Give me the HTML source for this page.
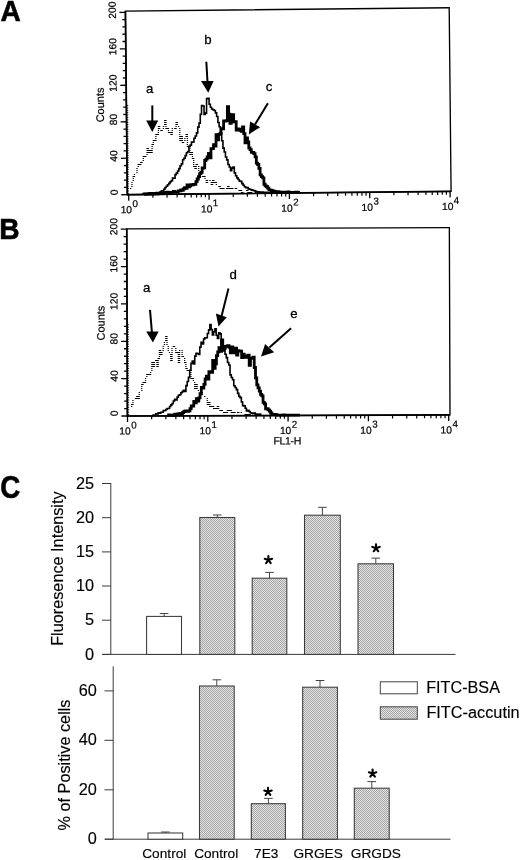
<!DOCTYPE html><html><head><meta charset="utf-8"><style>html,body{margin:0;padding:0;background:#fff;}svg{display:block;filter:grayscale(1);}.ab text{stroke:#000;stroke-width:0.22px;}text{font-family:"Liberation Sans", sans-serif;fill:#000;stroke:#000;stroke-width:0.15px;}</style></head><body>
<svg width="520" height="860" viewBox="0 0 520 860">
<defs><pattern id="chk" width="2" height="2" patternUnits="userSpaceOnUse"><rect width="2" height="2" fill="#e2e2e2"/><rect width="1" height="1" fill="#a6a6a6"/><rect x="1" y="1" width="1" height="1" fill="#a6a6a6"/></pattern></defs>
<text x="0" y="0" font-size="29.5" font-weight="bold" style="stroke-width:0.6px" transform="translate(0.6 20.9) scale(0.95 1)">A</text>
<text x="0" y="0" font-size="29.5" font-weight="bold" style="stroke-width:0.6px" transform="translate(-0.8 239.1) scale(0.955 1)">B</text>
<text x="0" y="0" font-size="30.8" font-weight="bold" style="stroke-width:0.6px" transform="translate(0.2 497.8) scale(0.9 1)">C</text>
<g class="ab" transform="translate(127.30 194.70) rotate(-0.590)">
<rect x="0" y="-183.60" width="323.80" height="183.60" fill="none" stroke="#000" stroke-width="1.35"/>
<path d="M0 -183.60 V0 H323.80" fill="none" stroke="#000" stroke-width="1.7"/>
<line x1="-6" y1="0.00" x2="0" y2="0.00" stroke="#000" stroke-width="1.3"/>
<line x1="-3.2" y1="-7.30" x2="0" y2="-7.30" stroke="#000" stroke-width="1.3"/>
<line x1="-3.2" y1="-14.59" x2="0" y2="-14.59" stroke="#000" stroke-width="1.3"/>
<line x1="-3.2" y1="-21.89" x2="0" y2="-21.89" stroke="#000" stroke-width="1.3"/>
<line x1="-3.2" y1="-29.18" x2="0" y2="-29.18" stroke="#000" stroke-width="1.3"/>
<line x1="-6" y1="-36.48" x2="0" y2="-36.48" stroke="#000" stroke-width="1.3"/>
<line x1="-3.2" y1="-43.78" x2="0" y2="-43.78" stroke="#000" stroke-width="1.3"/>
<line x1="-3.2" y1="-51.07" x2="0" y2="-51.07" stroke="#000" stroke-width="1.3"/>
<line x1="-3.2" y1="-58.37" x2="0" y2="-58.37" stroke="#000" stroke-width="1.3"/>
<line x1="-3.2" y1="-65.66" x2="0" y2="-65.66" stroke="#000" stroke-width="1.3"/>
<line x1="-6" y1="-72.96" x2="0" y2="-72.96" stroke="#000" stroke-width="1.3"/>
<line x1="-3.2" y1="-80.26" x2="0" y2="-80.26" stroke="#000" stroke-width="1.3"/>
<line x1="-3.2" y1="-87.55" x2="0" y2="-87.55" stroke="#000" stroke-width="1.3"/>
<line x1="-3.2" y1="-94.85" x2="0" y2="-94.85" stroke="#000" stroke-width="1.3"/>
<line x1="-3.2" y1="-102.14" x2="0" y2="-102.14" stroke="#000" stroke-width="1.3"/>
<line x1="-6" y1="-109.44" x2="0" y2="-109.44" stroke="#000" stroke-width="1.3"/>
<line x1="-3.2" y1="-116.74" x2="0" y2="-116.74" stroke="#000" stroke-width="1.3"/>
<line x1="-3.2" y1="-124.03" x2="0" y2="-124.03" stroke="#000" stroke-width="1.3"/>
<line x1="-3.2" y1="-131.33" x2="0" y2="-131.33" stroke="#000" stroke-width="1.3"/>
<line x1="-3.2" y1="-138.62" x2="0" y2="-138.62" stroke="#000" stroke-width="1.3"/>
<line x1="-6" y1="-145.92" x2="0" y2="-145.92" stroke="#000" stroke-width="1.3"/>
<line x1="-3.2" y1="-153.22" x2="0" y2="-153.22" stroke="#000" stroke-width="1.3"/>
<line x1="-3.2" y1="-160.51" x2="0" y2="-160.51" stroke="#000" stroke-width="1.3"/>
<line x1="-3.2" y1="-167.81" x2="0" y2="-167.81" stroke="#000" stroke-width="1.3"/>
<line x1="-3.2" y1="-175.10" x2="0" y2="-175.10" stroke="#000" stroke-width="1.3"/>
<line x1="-6" y1="-182.40" x2="0" y2="-182.40" stroke="#000" stroke-width="1.3"/>
<line x1="0" y1="-1.37" x2="1.8" y2="-1.37" stroke="#000" stroke-width="0.9"/>
<line x1="0" y1="-3.74" x2="1.8" y2="-3.74" stroke="#000" stroke-width="0.9"/>
<line x1="0" y1="-6.11" x2="1.8" y2="-6.11" stroke="#000" stroke-width="0.9"/>
<line x1="0" y1="-8.48" x2="1.8" y2="-8.48" stroke="#000" stroke-width="0.9"/>
<line x1="0" y1="-10.85" x2="1.8" y2="-10.85" stroke="#000" stroke-width="0.9"/>
<line x1="0" y1="-13.22" x2="1.8" y2="-13.22" stroke="#000" stroke-width="0.9"/>
<line x1="0" y1="-15.60" x2="1.8" y2="-15.60" stroke="#000" stroke-width="0.9"/>
<line x1="0" y1="-17.97" x2="1.8" y2="-17.97" stroke="#000" stroke-width="0.9"/>
<line x1="0" y1="-20.34" x2="1.8" y2="-20.34" stroke="#000" stroke-width="0.9"/>
<line x1="0" y1="-22.71" x2="1.8" y2="-22.71" stroke="#000" stroke-width="0.9"/>
<line x1="0" y1="-25.08" x2="1.8" y2="-25.08" stroke="#000" stroke-width="0.9"/>
<line x1="0" y1="-27.45" x2="1.8" y2="-27.45" stroke="#000" stroke-width="0.9"/>
<line x1="0" y1="-29.82" x2="1.8" y2="-29.82" stroke="#000" stroke-width="0.9"/>
<line x1="0" y1="-32.19" x2="1.8" y2="-32.19" stroke="#000" stroke-width="0.9"/>
<line x1="0" y1="-34.56" x2="1.8" y2="-34.56" stroke="#000" stroke-width="0.9"/>
<line x1="0" y1="-36.94" x2="1.8" y2="-36.94" stroke="#000" stroke-width="0.9"/>
<line x1="0" y1="-39.31" x2="1.8" y2="-39.31" stroke="#000" stroke-width="0.9"/>
<line x1="0" y1="-41.68" x2="1.8" y2="-41.68" stroke="#000" stroke-width="0.9"/>
<line x1="0" y1="-44.05" x2="1.8" y2="-44.05" stroke="#000" stroke-width="0.9"/>
<line x1="0" y1="-46.42" x2="1.8" y2="-46.42" stroke="#000" stroke-width="0.9"/>
<line x1="0" y1="-48.79" x2="1.8" y2="-48.79" stroke="#000" stroke-width="0.9"/>
<line x1="0" y1="-51.16" x2="1.8" y2="-51.16" stroke="#000" stroke-width="0.9"/>
<line x1="0" y1="-53.53" x2="1.8" y2="-53.53" stroke="#000" stroke-width="0.9"/>
<line x1="0" y1="-55.91" x2="1.8" y2="-55.91" stroke="#000" stroke-width="0.9"/>
<line x1="0" y1="-58.28" x2="1.8" y2="-58.28" stroke="#000" stroke-width="0.9"/>
<line x1="0" y1="-60.65" x2="1.8" y2="-60.65" stroke="#000" stroke-width="0.9"/>
<line x1="0" y1="-63.02" x2="1.8" y2="-63.02" stroke="#000" stroke-width="0.9"/>
<line x1="0" y1="-65.39" x2="1.8" y2="-65.39" stroke="#000" stroke-width="0.9"/>
<line x1="0" y1="-67.76" x2="1.8" y2="-67.76" stroke="#000" stroke-width="0.9"/>
<line x1="0" y1="-70.13" x2="1.8" y2="-70.13" stroke="#000" stroke-width="0.9"/>
<line x1="0" y1="-72.50" x2="1.8" y2="-72.50" stroke="#000" stroke-width="0.9"/>
<line x1="0" y1="-74.88" x2="1.8" y2="-74.88" stroke="#000" stroke-width="0.9"/>
<line x1="0" y1="-77.25" x2="1.8" y2="-77.25" stroke="#000" stroke-width="0.9"/>
<line x1="0" y1="-79.62" x2="1.8" y2="-79.62" stroke="#000" stroke-width="0.9"/>
<line x1="0" y1="-81.99" x2="1.8" y2="-81.99" stroke="#000" stroke-width="0.9"/>
<line x1="0" y1="-84.36" x2="1.8" y2="-84.36" stroke="#000" stroke-width="0.9"/>
<line x1="0" y1="-86.73" x2="1.8" y2="-86.73" stroke="#000" stroke-width="0.9"/>
<line x1="0" y1="-89.10" x2="1.8" y2="-89.10" stroke="#000" stroke-width="0.9"/>
<text transform="translate(-9.6 -2.30) rotate(-90)" text-anchor="middle" font-size="10.3">0</text>
<text transform="translate(-9.6 -38.78) rotate(-90)" text-anchor="middle" font-size="10.3">40</text>
<text transform="translate(-9.6 -75.26) rotate(-90)" text-anchor="middle" font-size="10.3">80</text>
<text transform="translate(-9.6 -111.74) rotate(-90)" text-anchor="middle" font-size="10.3">120</text>
<text transform="translate(-9.6 -148.22) rotate(-90)" text-anchor="middle" font-size="10.3">160</text>
<text transform="translate(-9.6 -184.70) rotate(-90)" text-anchor="middle" font-size="10.3">200</text>
<line x1="1.40" y1="0" x2="1.40" y2="6" stroke="#000" stroke-width="1.3"/>
<line x1="25.58" y1="0" x2="25.58" y2="3.4" stroke="#000" stroke-width="1.2"/>
<line x1="39.73" y1="0" x2="39.73" y2="3.4" stroke="#000" stroke-width="1.2"/>
<line x1="49.77" y1="0" x2="49.77" y2="3.4" stroke="#000" stroke-width="1.2"/>
<line x1="57.56" y1="0" x2="57.56" y2="3.4" stroke="#000" stroke-width="1.2"/>
<line x1="63.92" y1="0" x2="63.92" y2="3.4" stroke="#000" stroke-width="1.2"/>
<line x1="69.30" y1="0" x2="69.30" y2="3.4" stroke="#000" stroke-width="1.2"/>
<line x1="73.95" y1="0" x2="73.95" y2="3.4" stroke="#000" stroke-width="1.2"/>
<line x1="78.06" y1="0" x2="78.06" y2="3.4" stroke="#000" stroke-width="1.2"/>
<line x1="81.74" y1="0" x2="81.74" y2="6" stroke="#000" stroke-width="1.3"/>
<line x1="105.92" y1="0" x2="105.92" y2="3.4" stroke="#000" stroke-width="1.2"/>
<line x1="120.07" y1="0" x2="120.07" y2="3.4" stroke="#000" stroke-width="1.2"/>
<line x1="130.11" y1="0" x2="130.11" y2="3.4" stroke="#000" stroke-width="1.2"/>
<line x1="137.90" y1="0" x2="137.90" y2="3.4" stroke="#000" stroke-width="1.2"/>
<line x1="144.26" y1="0" x2="144.26" y2="3.4" stroke="#000" stroke-width="1.2"/>
<line x1="149.64" y1="0" x2="149.64" y2="3.4" stroke="#000" stroke-width="1.2"/>
<line x1="154.29" y1="0" x2="154.29" y2="3.4" stroke="#000" stroke-width="1.2"/>
<line x1="158.40" y1="0" x2="158.40" y2="3.4" stroke="#000" stroke-width="1.2"/>
<line x1="162.08" y1="0" x2="162.08" y2="6" stroke="#000" stroke-width="1.3"/>
<line x1="186.26" y1="0" x2="186.26" y2="3.4" stroke="#000" stroke-width="1.2"/>
<line x1="200.41" y1="0" x2="200.41" y2="3.4" stroke="#000" stroke-width="1.2"/>
<line x1="210.45" y1="0" x2="210.45" y2="3.4" stroke="#000" stroke-width="1.2"/>
<line x1="218.24" y1="0" x2="218.24" y2="3.4" stroke="#000" stroke-width="1.2"/>
<line x1="224.60" y1="0" x2="224.60" y2="3.4" stroke="#000" stroke-width="1.2"/>
<line x1="229.98" y1="0" x2="229.98" y2="3.4" stroke="#000" stroke-width="1.2"/>
<line x1="234.63" y1="0" x2="234.63" y2="3.4" stroke="#000" stroke-width="1.2"/>
<line x1="238.74" y1="0" x2="238.74" y2="3.4" stroke="#000" stroke-width="1.2"/>
<line x1="242.42" y1="0" x2="242.42" y2="6" stroke="#000" stroke-width="1.3"/>
<line x1="266.60" y1="0" x2="266.60" y2="3.4" stroke="#000" stroke-width="1.2"/>
<line x1="280.75" y1="0" x2="280.75" y2="3.4" stroke="#000" stroke-width="1.2"/>
<line x1="290.79" y1="0" x2="290.79" y2="3.4" stroke="#000" stroke-width="1.2"/>
<line x1="298.58" y1="0" x2="298.58" y2="3.4" stroke="#000" stroke-width="1.2"/>
<line x1="304.94" y1="0" x2="304.94" y2="3.4" stroke="#000" stroke-width="1.2"/>
<line x1="310.32" y1="0" x2="310.32" y2="3.4" stroke="#000" stroke-width="1.2"/>
<line x1="314.97" y1="0" x2="314.97" y2="3.4" stroke="#000" stroke-width="1.2"/>
<line x1="319.08" y1="0" x2="319.08" y2="3.4" stroke="#000" stroke-width="1.2"/>
<line x1="322.76" y1="0" x2="322.76" y2="6" stroke="#000" stroke-width="1.3"/>
<text x="4.60" y="18.6" font-size="10.3" text-anchor="end">10</text>
<text x="5.10" y="12.4" font-size="9.8">0</text>
<text x="84.94" y="18.6" font-size="10.3" text-anchor="end">10</text>
<text x="85.44" y="12.4" font-size="9.8">1</text>
<text x="165.28" y="18.6" font-size="10.3" text-anchor="end">10</text>
<text x="165.78" y="12.4" font-size="9.8">2</text>
<text x="245.62" y="18.6" font-size="10.3" text-anchor="end">10</text>
<text x="246.12" y="12.4" font-size="9.8">3</text>
<text x="325.96" y="18.6" font-size="10.3" text-anchor="end">10</text>
<text x="326.46" y="12.4" font-size="9.8">4</text>
<text transform="translate(-22.5 -90.00) rotate(-90)" text-anchor="middle" font-size="11">Counts</text>

</g>
<path d="M130.06 188.00h1.26v1.10h-1.26zM131.32 182.00h1.26v1.10h-1.26zM131.32 184.00h1.26v1.10h-1.26zM131.32 186.00h1.26v1.10h-1.26zM132.58 176.00h1.26v1.10h-1.26zM132.58 178.00h1.26v1.10h-1.26zM132.58 180.00h1.26v1.10h-1.26zM133.84 174.00h1.26v1.10h-1.26zM133.84 176.00h1.26v1.10h-1.26zM136.36 168.00h1.26v1.10h-1.26zM136.36 170.00h1.26v1.10h-1.26zM136.36 172.00h1.26v1.10h-1.26zM137.62 164.00h1.26v1.10h-1.26zM137.62 166.00h1.26v1.10h-1.26zM138.88 164.00h1.26v1.10h-1.26zM140.14 162.00h1.26v1.10h-1.26zM140.14 164.00h1.26v1.10h-1.26zM141.40 162.00h1.26v1.10h-1.26zM142.66 156.00h1.26v1.10h-1.26zM142.66 158.00h1.26v1.10h-1.26zM142.66 160.00h1.26v1.10h-1.26zM143.92 156.00h1.26v1.10h-1.26zM145.18 156.00h1.26v1.10h-1.26zM146.44 148.00h1.26v1.10h-1.26zM146.44 150.00h1.26v1.10h-1.26zM146.44 152.00h1.26v1.10h-1.26zM146.44 154.00h1.26v1.10h-1.26zM147.70 148.00h1.26v1.10h-1.26zM147.70 150.00h1.26v1.10h-1.26zM147.70 152.00h1.26v1.10h-1.26zM148.96 150.00h1.26v1.10h-1.26zM148.96 152.00h1.26v1.10h-1.26zM150.22 150.00h1.26v1.10h-1.26zM150.22 152.00h1.26v1.10h-1.26zM151.48 144.00h1.26v1.10h-1.26zM151.48 146.00h1.26v1.10h-1.26zM151.48 148.00h1.26v1.10h-1.26zM151.48 150.00h1.26v1.10h-1.26zM151.48 152.00h1.26v1.10h-1.26zM152.74 140.00h1.26v1.10h-1.26zM152.74 142.00h1.26v1.10h-1.26zM152.74 144.00h1.26v1.10h-1.26zM154.00 140.00h1.26v1.10h-1.26zM155.26 134.00h1.26v1.10h-1.26zM155.26 136.00h1.26v1.10h-1.26zM155.26 138.00h1.26v1.10h-1.26zM155.26 140.00h1.26v1.10h-1.26zM156.52 134.00h1.26v1.10h-1.26zM157.78 126.00h1.26v1.10h-1.26zM157.78 128.00h1.26v1.10h-1.26zM157.78 130.00h1.26v1.10h-1.26zM157.78 132.00h1.26v1.10h-1.26zM157.78 134.00h1.26v1.10h-1.26zM159.04 126.00h1.26v1.10h-1.26zM159.04 128.00h1.26v1.10h-1.26zM160.30 130.00h1.26v1.10h-1.26zM161.56 130.00h1.26v1.10h-1.26zM162.82 126.00h1.26v1.10h-1.26zM162.82 128.00h1.26v1.10h-1.26zM164.08 120.00h1.26v1.10h-1.26zM164.08 122.00h1.26v1.10h-1.26zM164.08 124.00h1.26v1.10h-1.26zM165.34 120.00h1.26v1.10h-1.26zM165.34 122.00h1.26v1.10h-1.26zM165.34 124.00h1.26v1.10h-1.26zM165.34 126.00h1.26v1.10h-1.26zM165.34 128.00h1.26v1.10h-1.26zM166.60 128.00h1.26v1.10h-1.26zM167.86 128.00h1.26v1.10h-1.26zM167.86 130.00h1.26v1.10h-1.26zM167.86 132.00h1.26v1.10h-1.26zM169.12 132.00h1.26v1.10h-1.26zM170.38 132.00h1.26v1.10h-1.26zM170.38 134.00h1.26v1.10h-1.26zM171.64 128.00h1.26v1.10h-1.26zM171.64 130.00h1.26v1.10h-1.26zM171.64 132.00h1.26v1.10h-1.26zM171.64 134.00h1.26v1.10h-1.26zM174.16 128.00h1.26v1.10h-1.26zM175.42 122.00h1.26v1.10h-1.26zM175.42 124.00h1.26v1.10h-1.26zM175.42 126.00h1.26v1.10h-1.26zM175.42 128.00h1.26v1.10h-1.26zM176.68 122.00h1.26v1.10h-1.26zM176.68 124.00h1.26v1.10h-1.26zM177.94 126.00h1.26v1.10h-1.26zM179.20 128.00h1.26v1.10h-1.26zM179.20 130.00h1.26v1.10h-1.26zM179.20 132.00h1.26v1.10h-1.26zM179.20 134.00h1.26v1.10h-1.26zM179.20 136.00h1.26v1.10h-1.26zM179.20 138.00h1.26v1.10h-1.26zM179.20 140.00h1.26v1.10h-1.26zM180.46 136.00h1.26v1.10h-1.26zM180.46 138.00h1.26v1.10h-1.26zM180.46 140.00h1.26v1.10h-1.26zM181.72 136.00h1.26v1.10h-1.26zM181.72 138.00h1.26v1.10h-1.26zM181.72 140.00h1.26v1.10h-1.26zM181.72 142.00h1.26v1.10h-1.26zM182.98 142.00h1.26v1.10h-1.26zM184.24 138.00h1.26v1.10h-1.26zM184.24 140.00h1.26v1.10h-1.26zM185.50 134.00h1.26v1.10h-1.26zM185.50 136.00h1.26v1.10h-1.26zM186.76 134.00h1.26v1.10h-1.26zM186.76 136.00h1.26v1.10h-1.26zM186.76 138.00h1.26v1.10h-1.26zM186.76 140.00h1.26v1.10h-1.26zM186.76 142.00h1.26v1.10h-1.26zM186.76 144.00h1.26v1.10h-1.26zM186.76 146.00h1.26v1.10h-1.26zM188.02 146.00h1.26v1.10h-1.26zM189.28 146.00h1.26v1.10h-1.26zM189.28 148.00h1.26v1.10h-1.26zM189.28 150.00h1.26v1.10h-1.26zM189.28 152.00h1.26v1.10h-1.26zM189.28 154.00h1.26v1.10h-1.26zM190.54 152.00h1.26v1.10h-1.26zM190.54 154.00h1.26v1.10h-1.26zM191.80 152.00h1.26v1.10h-1.26zM191.80 154.00h1.26v1.10h-1.26zM191.80 156.00h1.26v1.10h-1.26zM191.80 158.00h1.26v1.10h-1.26zM193.06 158.00h1.26v1.10h-1.26zM193.06 160.00h1.26v1.10h-1.26zM193.06 162.00h1.26v1.10h-1.26zM193.06 164.00h1.26v1.10h-1.26zM193.06 166.00h1.26v1.10h-1.26zM194.32 166.00h1.26v1.10h-1.26zM194.32 168.00h1.26v1.10h-1.26zM195.58 164.00h1.26v1.10h-1.26zM195.58 166.00h1.26v1.10h-1.26zM195.58 168.00h1.26v1.10h-1.26zM196.84 164.00h1.26v1.10h-1.26zM198.10 166.00h1.26v1.10h-1.26zM198.10 168.00h1.26v1.10h-1.26zM198.10 170.00h1.26v1.10h-1.26zM199.36 172.00h1.26v1.10h-1.26zM199.36 174.00h1.26v1.10h-1.26zM201.88 176.00h1.26v1.10h-1.26zM203.14 176.00h1.26v1.10h-1.26zM204.40 176.00h1.26v1.10h-1.26zM204.40 178.00h1.26v1.10h-1.26zM205.66 180.00h1.26v1.10h-1.26zM205.66 182.00h1.26v1.10h-1.26zM206.92 180.00h1.26v1.10h-1.26zM206.92 182.00h1.26v1.10h-1.26zM209.44 180.00h1.26v1.10h-1.26zM210.70 182.00h1.26v1.10h-1.26zM210.70 184.00h1.26v1.10h-1.26zM211.96 180.00h1.26v1.10h-1.26zM211.96 182.00h1.26v1.10h-1.26zM211.96 184.00h1.26v1.10h-1.26zM213.22 180.00h1.26v1.10h-1.26zM213.22 182.00h1.26v1.10h-1.26zM214.48 182.00h1.26v1.10h-1.26zM215.74 182.00h1.26v1.10h-1.26zM215.74 184.00h1.26v1.10h-1.26zM218.26 186.00h1.26v1.10h-1.26zM219.52 186.00h1.26v1.10h-1.26zM219.52 188.00h1.26v1.10h-1.26zM220.78 188.00h1.26v1.10h-1.26zM222.04 188.00h1.26v1.10h-1.26zM223.30 188.00h1.26v1.10h-1.26zM225.82 188.00h1.26v1.10h-1.26zM227.08 186.00h1.26v1.10h-1.26zM227.08 188.00h1.26v1.10h-1.26zM228.34 186.00h1.26v1.10h-1.26zM228.34 188.00h1.26v1.10h-1.26zM229.60 188.00h1.26v1.10h-1.26zM230.86 188.00h1.26v1.10h-1.26zM232.12 188.00h1.26v1.10h-1.26zM234.64 188.00h1.26v1.10h-1.26zM235.90 188.00h1.26v1.10h-1.26zM238.42 190.00h1.26v1.10h-1.26zM239.68 190.00h1.26v1.10h-1.26zM240.94 190.00h1.26v1.10h-1.26zM240.94 192.00h1.26v1.10h-1.26zM242.20 192.00h1.26v1.10h-1.26zM245.98 190.00h1.26v1.10h-1.26zM247.24 190.00h1.26v1.10h-1.26zM247.24 192.00h1.26v1.10h-1.26zM248.50 192.00h1.26v1.10h-1.26zM249.76 192.00h1.26v1.10h-1.26zM251.02 192.00h1.26v1.10h-1.26zM254.80 192.00h1.26v1.10h-1.26zM257.32 192.00h1.26v1.10h-1.26zM258.58 192.00h1.26v1.10h-1.26zM259.84 192.00h1.26v1.10h-1.26zM261.10 192.00h1.26v1.10h-1.26zM262.36 192.00h1.26v1.10h-1.26zM263.62 192.00h1.26v1.10h-1.26zM264.88 192.00h1.26v1.10h-1.26zM266.14 192.00h1.26v1.10h-1.26z" fill="#000"/>
<path d="M142.30 193.72H143.56V193.33H144.82V193.41H146.08V193.30H147.34V193.33H148.60V192.92H149.86V193.00H151.12V192.87H152.38V192.74H153.64V192.70H154.90V192.68H156.16V192.65H157.42V192.47H158.68V192.63H159.94V192.14H161.20V190.94H162.46V190.69H163.72V189.21H164.98V187.48H166.24V186.24H167.50V184.70H168.76V183.36H170.02V181.68H171.28V180.63H172.54V178.14H173.80V178.14H175.06V174.61H176.32V173.13H177.58V170.97H178.84V168.62H180.10V165.81H181.36V163.84H182.62V159.73H183.88V158.25H185.14V155.63H186.40V152.82H187.66V151.61H188.92V146.42H190.18V145.08H191.44V142.11H192.70V141.98H193.96V138.18H195.22V136.00H196.48V132.92H197.74V127.11H199.00V123.14H200.26V114.33H201.52V105.54H202.78V106.02H204.04V114.55H205.30V113.11H206.56V98.60H207.82V98.31H209.08V104.27H210.34V107.24H211.60V109.01H212.86V109.77H214.12V110.57H215.38V112.86H216.64V116.48H217.90V122.46H219.16V126.70H220.42V132.96H221.68V140.76H222.94V148.12H224.20V152.07H225.46V156.94H226.72V159.92H227.98V164.57H229.24V167.05H230.50V170.80H231.76V168.15H233.02V166.98H234.28V172.88H235.54V175.70H236.80V177.83H238.06V179.49H239.32V181.15H240.58V181.41H241.84V183.65H243.10V185.20H244.36V186.68H245.62V187.64H246.88V187.59H248.14V188.83H249.40V189.20H250.66V189.81H251.92V190.15H253.18V190.54H254.44V190.92H255.70V191.52H256.96V191.90H258.22V191.91H259.48V192.00H260.74V192.08H262.00V192.06H263.26V192.35H264.52V192.61H265.78V192.34H267.04V192.59H268.30V192.61H269.56V192.52H270.82V192.58H272.08V192.65H273.34V192.68H274.60V192.64H275.86V192.67H276.90" fill="none" stroke="#000" stroke-width="1.6"/>
<path d="M144.20 194.23H145.46V194.21H146.72V194.06H147.98V194.19H149.24V193.99H150.50V193.89H151.76V194.15H153.02V193.82H154.28V193.68H155.54V193.82H156.80V193.87H158.06V193.41H159.32V193.54H160.58V192.91H161.84V193.03H163.10V192.91H164.36V192.47H165.62V192.30H166.88V192.15H168.14V192.62H169.40V192.55H170.66V192.40H171.92V192.41H173.18V191.51H174.44V191.89H175.70V191.84H176.96V191.90H178.22V190.82H179.48V190.87H180.74V189.94H182.00V190.40H183.26V188.95H184.52V187.63H185.78V188.39H187.04V185.02H188.30V186.74H189.56V185.81H190.82V184.68H192.08V184.89H193.34V184.37H194.60V184.34H195.86V181.54H197.12V178.98H198.38V176.72H199.64V173.59H200.90V172.43H202.16V167.98H203.42V167.87H204.68V160.48H205.94V159.07H207.20V157.02H208.46V153.39H209.72V157.74H210.98V148.69H212.24V148.60H213.50V144.68H214.76V146.22H216.02V134.59H217.28V139.75H218.54V134.38H219.80V133.66H221.06V128.63H222.32V128.80H223.58V120.82H224.84V121.11H226.10V120.64H227.36V106.60H228.62V114.15H229.88V123.37H231.14V122.10H232.40V114.60H233.66V121.86H234.92V121.57H236.18V129.99H237.44V128.93H238.70V129.17H239.96V130.44H241.22V131.41H242.48V127.00H243.74V133.69H245.00V142.74H246.26V137.84H247.52V141.84H248.78V147.94H250.04V149.59H251.30V152.30H252.56V152.33H253.82V153.71H255.08V156.81H256.34V163.07H257.60V164.52H258.86V168.33H260.12V174.84H261.38V176.61H262.64V177.95H263.90V184.24H265.16V185.82H266.42V186.73H267.68V188.13H268.94V189.94H270.20V190.11H271.46V190.75H272.72V190.87H273.98V191.43H275.24V192.27H276.50V191.88H277.76V191.62H279.02V192.36H280.28V192.18H281.54V192.45H282.80V192.58H284.06V192.17H285.32V192.20H286.58V192.25H287.84V191.96H289.10V192.50H290.36V192.71H291.62V192.40H292.88V192.31H294.14V192.33H295.40V192.23H296.66V192.25H297.92V192.37H299.18V192.30H300.00" fill="none" stroke="#000" stroke-width="2.8"/>
<line x1="152.3" y1="105.4" x2="152.3" y2="121.0" stroke="#000" stroke-width="2"/>
<polygon points="146.2,120.4 158.2,120.4 152.3,131.9" fill="#000"/>
<line x1="206.3" y1="61.8" x2="207.5" y2="81.5" stroke="#000" stroke-width="2"/>
<polygon points="201.0,80.9 213.6,80.9 208.3,92.7" fill="#000"/>
<line x1="267.9" y1="103.2" x2="255.0" y2="124.5" stroke="#000" stroke-width="2"/>
<polygon points="250.1,121.4 260.2,127.2 248.8,134.4" fill="#000"/>
<text class="lbl" x="145.9" y="93.2" font-size="13.2" style="stroke-width:0.3px">a</text>
<text class="lbl" x="204.3" y="43.9" font-size="13.2" style="stroke-width:0.3px">b</text>
<text class="lbl" x="265.7" y="90.8" font-size="13.2" style="stroke-width:0.3px">c</text>
<g class="ab" transform="translate(127.40 416.00) rotate(-0.200)">
<rect x="0" y="-187.20" width="322.60" height="187.20" fill="none" stroke="#000" stroke-width="1.35"/>
<path d="M0 -187.20 V0 H322.60" fill="none" stroke="#000" stroke-width="1.7"/>
<line x1="-6" y1="0.00" x2="0" y2="0.00" stroke="#000" stroke-width="1.3"/>
<line x1="-3.2" y1="-7.47" x2="0" y2="-7.47" stroke="#000" stroke-width="1.3"/>
<line x1="-3.2" y1="-14.94" x2="0" y2="-14.94" stroke="#000" stroke-width="1.3"/>
<line x1="-3.2" y1="-22.42" x2="0" y2="-22.42" stroke="#000" stroke-width="1.3"/>
<line x1="-3.2" y1="-29.89" x2="0" y2="-29.89" stroke="#000" stroke-width="1.3"/>
<line x1="-6" y1="-37.36" x2="0" y2="-37.36" stroke="#000" stroke-width="1.3"/>
<line x1="-3.2" y1="-44.83" x2="0" y2="-44.83" stroke="#000" stroke-width="1.3"/>
<line x1="-3.2" y1="-52.30" x2="0" y2="-52.30" stroke="#000" stroke-width="1.3"/>
<line x1="-3.2" y1="-59.78" x2="0" y2="-59.78" stroke="#000" stroke-width="1.3"/>
<line x1="-3.2" y1="-67.25" x2="0" y2="-67.25" stroke="#000" stroke-width="1.3"/>
<line x1="-6" y1="-74.72" x2="0" y2="-74.72" stroke="#000" stroke-width="1.3"/>
<line x1="-3.2" y1="-82.19" x2="0" y2="-82.19" stroke="#000" stroke-width="1.3"/>
<line x1="-3.2" y1="-89.66" x2="0" y2="-89.66" stroke="#000" stroke-width="1.3"/>
<line x1="-3.2" y1="-97.14" x2="0" y2="-97.14" stroke="#000" stroke-width="1.3"/>
<line x1="-3.2" y1="-104.61" x2="0" y2="-104.61" stroke="#000" stroke-width="1.3"/>
<line x1="-6" y1="-112.08" x2="0" y2="-112.08" stroke="#000" stroke-width="1.3"/>
<line x1="-3.2" y1="-119.55" x2="0" y2="-119.55" stroke="#000" stroke-width="1.3"/>
<line x1="-3.2" y1="-127.02" x2="0" y2="-127.02" stroke="#000" stroke-width="1.3"/>
<line x1="-3.2" y1="-134.50" x2="0" y2="-134.50" stroke="#000" stroke-width="1.3"/>
<line x1="-3.2" y1="-141.97" x2="0" y2="-141.97" stroke="#000" stroke-width="1.3"/>
<line x1="-6" y1="-149.44" x2="0" y2="-149.44" stroke="#000" stroke-width="1.3"/>
<line x1="-3.2" y1="-156.91" x2="0" y2="-156.91" stroke="#000" stroke-width="1.3"/>
<line x1="-3.2" y1="-164.38" x2="0" y2="-164.38" stroke="#000" stroke-width="1.3"/>
<line x1="-3.2" y1="-171.86" x2="0" y2="-171.86" stroke="#000" stroke-width="1.3"/>
<line x1="-3.2" y1="-179.33" x2="0" y2="-179.33" stroke="#000" stroke-width="1.3"/>
<line x1="-6" y1="-186.80" x2="0" y2="-186.80" stroke="#000" stroke-width="1.3"/>
<line x1="0" y1="-1.40" x2="1.8" y2="-1.40" stroke="#000" stroke-width="0.9"/>
<line x1="0" y1="-3.83" x2="1.8" y2="-3.83" stroke="#000" stroke-width="0.9"/>
<line x1="0" y1="-6.26" x2="1.8" y2="-6.26" stroke="#000" stroke-width="0.9"/>
<line x1="0" y1="-8.69" x2="1.8" y2="-8.69" stroke="#000" stroke-width="0.9"/>
<line x1="0" y1="-11.11" x2="1.8" y2="-11.11" stroke="#000" stroke-width="0.9"/>
<line x1="0" y1="-13.54" x2="1.8" y2="-13.54" stroke="#000" stroke-width="0.9"/>
<line x1="0" y1="-15.97" x2="1.8" y2="-15.97" stroke="#000" stroke-width="0.9"/>
<line x1="0" y1="-18.40" x2="1.8" y2="-18.40" stroke="#000" stroke-width="0.9"/>
<line x1="0" y1="-20.83" x2="1.8" y2="-20.83" stroke="#000" stroke-width="0.9"/>
<line x1="0" y1="-23.26" x2="1.8" y2="-23.26" stroke="#000" stroke-width="0.9"/>
<line x1="0" y1="-25.69" x2="1.8" y2="-25.69" stroke="#000" stroke-width="0.9"/>
<line x1="0" y1="-28.11" x2="1.8" y2="-28.11" stroke="#000" stroke-width="0.9"/>
<line x1="0" y1="-30.54" x2="1.8" y2="-30.54" stroke="#000" stroke-width="0.9"/>
<line x1="0" y1="-32.97" x2="1.8" y2="-32.97" stroke="#000" stroke-width="0.9"/>
<line x1="0" y1="-35.40" x2="1.8" y2="-35.40" stroke="#000" stroke-width="0.9"/>
<line x1="0" y1="-37.83" x2="1.8" y2="-37.83" stroke="#000" stroke-width="0.9"/>
<line x1="0" y1="-40.26" x2="1.8" y2="-40.26" stroke="#000" stroke-width="0.9"/>
<line x1="0" y1="-42.68" x2="1.8" y2="-42.68" stroke="#000" stroke-width="0.9"/>
<line x1="0" y1="-45.11" x2="1.8" y2="-45.11" stroke="#000" stroke-width="0.9"/>
<line x1="0" y1="-47.54" x2="1.8" y2="-47.54" stroke="#000" stroke-width="0.9"/>
<line x1="0" y1="-49.97" x2="1.8" y2="-49.97" stroke="#000" stroke-width="0.9"/>
<line x1="0" y1="-52.40" x2="1.8" y2="-52.40" stroke="#000" stroke-width="0.9"/>
<line x1="0" y1="-54.83" x2="1.8" y2="-54.83" stroke="#000" stroke-width="0.9"/>
<line x1="0" y1="-57.25" x2="1.8" y2="-57.25" stroke="#000" stroke-width="0.9"/>
<line x1="0" y1="-59.68" x2="1.8" y2="-59.68" stroke="#000" stroke-width="0.9"/>
<line x1="0" y1="-62.11" x2="1.8" y2="-62.11" stroke="#000" stroke-width="0.9"/>
<line x1="0" y1="-64.54" x2="1.8" y2="-64.54" stroke="#000" stroke-width="0.9"/>
<line x1="0" y1="-66.97" x2="1.8" y2="-66.97" stroke="#000" stroke-width="0.9"/>
<line x1="0" y1="-69.40" x2="1.8" y2="-69.40" stroke="#000" stroke-width="0.9"/>
<line x1="0" y1="-71.82" x2="1.8" y2="-71.82" stroke="#000" stroke-width="0.9"/>
<line x1="0" y1="-74.25" x2="1.8" y2="-74.25" stroke="#000" stroke-width="0.9"/>
<line x1="0" y1="-76.68" x2="1.8" y2="-76.68" stroke="#000" stroke-width="0.9"/>
<line x1="0" y1="-79.11" x2="1.8" y2="-79.11" stroke="#000" stroke-width="0.9"/>
<line x1="0" y1="-81.54" x2="1.8" y2="-81.54" stroke="#000" stroke-width="0.9"/>
<line x1="0" y1="-83.97" x2="1.8" y2="-83.97" stroke="#000" stroke-width="0.9"/>
<line x1="0" y1="-86.39" x2="1.8" y2="-86.39" stroke="#000" stroke-width="0.9"/>
<line x1="0" y1="-88.82" x2="1.8" y2="-88.82" stroke="#000" stroke-width="0.9"/>
<line x1="0" y1="-91.25" x2="1.8" y2="-91.25" stroke="#000" stroke-width="0.9"/>
<text transform="translate(-9.6 -2.60) rotate(-90)" text-anchor="middle" font-size="10.3">0</text>
<text transform="translate(-9.6 -39.96) rotate(-90)" text-anchor="middle" font-size="10.3">40</text>
<text transform="translate(-9.6 -77.32) rotate(-90)" text-anchor="middle" font-size="10.3">80</text>
<text transform="translate(-9.6 -114.68) rotate(-90)" text-anchor="middle" font-size="10.3">120</text>
<text transform="translate(-9.6 -152.04) rotate(-90)" text-anchor="middle" font-size="10.3">160</text>
<text transform="translate(-9.6 -189.40) rotate(-90)" text-anchor="middle" font-size="10.3">200</text>
<line x1="0.10" y1="0" x2="0.10" y2="6" stroke="#000" stroke-width="1.3"/>
<line x1="24.27" y1="0" x2="24.27" y2="3.4" stroke="#000" stroke-width="1.2"/>
<line x1="38.41" y1="0" x2="38.41" y2="3.4" stroke="#000" stroke-width="1.2"/>
<line x1="48.45" y1="0" x2="48.45" y2="3.4" stroke="#000" stroke-width="1.2"/>
<line x1="56.23" y1="0" x2="56.23" y2="3.4" stroke="#000" stroke-width="1.2"/>
<line x1="62.59" y1="0" x2="62.59" y2="3.4" stroke="#000" stroke-width="1.2"/>
<line x1="67.96" y1="0" x2="67.96" y2="3.4" stroke="#000" stroke-width="1.2"/>
<line x1="72.62" y1="0" x2="72.62" y2="3.4" stroke="#000" stroke-width="1.2"/>
<line x1="76.73" y1="0" x2="76.73" y2="3.4" stroke="#000" stroke-width="1.2"/>
<line x1="80.40" y1="0" x2="80.40" y2="6" stroke="#000" stroke-width="1.3"/>
<line x1="104.57" y1="0" x2="104.57" y2="3.4" stroke="#000" stroke-width="1.2"/>
<line x1="118.71" y1="0" x2="118.71" y2="3.4" stroke="#000" stroke-width="1.2"/>
<line x1="128.75" y1="0" x2="128.75" y2="3.4" stroke="#000" stroke-width="1.2"/>
<line x1="136.53" y1="0" x2="136.53" y2="3.4" stroke="#000" stroke-width="1.2"/>
<line x1="142.89" y1="0" x2="142.89" y2="3.4" stroke="#000" stroke-width="1.2"/>
<line x1="148.26" y1="0" x2="148.26" y2="3.4" stroke="#000" stroke-width="1.2"/>
<line x1="152.92" y1="0" x2="152.92" y2="3.4" stroke="#000" stroke-width="1.2"/>
<line x1="157.03" y1="0" x2="157.03" y2="3.4" stroke="#000" stroke-width="1.2"/>
<line x1="160.70" y1="0" x2="160.70" y2="6" stroke="#000" stroke-width="1.3"/>
<line x1="184.87" y1="0" x2="184.87" y2="3.4" stroke="#000" stroke-width="1.2"/>
<line x1="199.01" y1="0" x2="199.01" y2="3.4" stroke="#000" stroke-width="1.2"/>
<line x1="209.05" y1="0" x2="209.05" y2="3.4" stroke="#000" stroke-width="1.2"/>
<line x1="216.83" y1="0" x2="216.83" y2="3.4" stroke="#000" stroke-width="1.2"/>
<line x1="223.19" y1="0" x2="223.19" y2="3.4" stroke="#000" stroke-width="1.2"/>
<line x1="228.56" y1="0" x2="228.56" y2="3.4" stroke="#000" stroke-width="1.2"/>
<line x1="233.22" y1="0" x2="233.22" y2="3.4" stroke="#000" stroke-width="1.2"/>
<line x1="237.33" y1="0" x2="237.33" y2="3.4" stroke="#000" stroke-width="1.2"/>
<line x1="241.00" y1="0" x2="241.00" y2="6" stroke="#000" stroke-width="1.3"/>
<line x1="265.17" y1="0" x2="265.17" y2="3.4" stroke="#000" stroke-width="1.2"/>
<line x1="279.31" y1="0" x2="279.31" y2="3.4" stroke="#000" stroke-width="1.2"/>
<line x1="289.35" y1="0" x2="289.35" y2="3.4" stroke="#000" stroke-width="1.2"/>
<line x1="297.13" y1="0" x2="297.13" y2="3.4" stroke="#000" stroke-width="1.2"/>
<line x1="303.49" y1="0" x2="303.49" y2="3.4" stroke="#000" stroke-width="1.2"/>
<line x1="308.86" y1="0" x2="308.86" y2="3.4" stroke="#000" stroke-width="1.2"/>
<line x1="313.52" y1="0" x2="313.52" y2="3.4" stroke="#000" stroke-width="1.2"/>
<line x1="317.63" y1="0" x2="317.63" y2="3.4" stroke="#000" stroke-width="1.2"/>
<line x1="321.30" y1="0" x2="321.30" y2="6" stroke="#000" stroke-width="1.3"/>
<text x="3.30" y="18.6" font-size="10.3" text-anchor="end">10</text>
<text x="3.80" y="12.4" font-size="9.8">0</text>
<text x="83.60" y="18.6" font-size="10.3" text-anchor="end">10</text>
<text x="84.10" y="12.4" font-size="9.8">1</text>
<text x="163.90" y="18.6" font-size="10.3" text-anchor="end">10</text>
<text x="164.40" y="12.4" font-size="9.8">2</text>
<text x="244.20" y="18.6" font-size="10.3" text-anchor="end">10</text>
<text x="244.70" y="12.4" font-size="9.8">3</text>
<text x="324.50" y="18.6" font-size="10.3" text-anchor="end">10</text>
<text x="325.00" y="12.4" font-size="9.8">4</text>
<text transform="translate(-22.5 -93.00) rotate(-90)" text-anchor="middle" font-size="11">Counts</text>
<text x="146" y="29" font-size="10.6" letter-spacing="-0.4">FL1-H</text>
</g>
<path d="M131.06 404.00h1.26v1.10h-1.26zM131.06 406.00h1.26v1.10h-1.26zM132.32 400.00h1.26v1.10h-1.26zM132.32 402.00h1.26v1.10h-1.26zM132.32 404.00h1.26v1.10h-1.26zM134.84 398.00h1.26v1.10h-1.26zM136.10 396.00h1.26v1.10h-1.26zM136.10 398.00h1.26v1.10h-1.26zM137.36 396.00h1.26v1.10h-1.26zM137.36 398.00h1.26v1.10h-1.26zM138.62 392.00h1.26v1.10h-1.26zM138.62 394.00h1.26v1.10h-1.26zM138.62 396.00h1.26v1.10h-1.26zM138.62 398.00h1.26v1.10h-1.26zM141.14 384.00h1.26v1.10h-1.26zM141.14 386.00h1.26v1.10h-1.26zM141.14 388.00h1.26v1.10h-1.26zM141.14 390.00h1.26v1.10h-1.26zM142.40 382.00h1.26v1.10h-1.26zM142.40 384.00h1.26v1.10h-1.26zM143.66 382.00h1.26v1.10h-1.26zM144.92 378.00h1.26v1.10h-1.26zM144.92 380.00h1.26v1.10h-1.26zM144.92 382.00h1.26v1.10h-1.26zM146.18 374.00h1.26v1.10h-1.26zM146.18 376.00h1.26v1.10h-1.26zM147.44 374.00h1.26v1.10h-1.26zM148.70 374.00h1.26v1.10h-1.26zM149.96 372.00h1.26v1.10h-1.26zM149.96 374.00h1.26v1.10h-1.26zM151.22 362.00h1.26v1.10h-1.26zM151.22 364.00h1.26v1.10h-1.26zM151.22 366.00h1.26v1.10h-1.26zM151.22 368.00h1.26v1.10h-1.26zM151.22 370.00h1.26v1.10h-1.26zM152.48 362.00h1.26v1.10h-1.26zM152.48 364.00h1.26v1.10h-1.26zM152.48 366.00h1.26v1.10h-1.26zM153.74 362.00h1.26v1.10h-1.26zM153.74 364.00h1.26v1.10h-1.26zM153.74 366.00h1.26v1.10h-1.26zM155.00 360.00h1.26v1.10h-1.26zM156.26 360.00h1.26v1.10h-1.26zM156.26 362.00h1.26v1.10h-1.26zM156.26 364.00h1.26v1.10h-1.26zM156.26 366.00h1.26v1.10h-1.26zM157.52 358.00h1.26v1.10h-1.26zM157.52 360.00h1.26v1.10h-1.26zM157.52 362.00h1.26v1.10h-1.26zM157.52 364.00h1.26v1.10h-1.26zM157.52 366.00h1.26v1.10h-1.26zM158.78 350.00h1.26v1.10h-1.26zM158.78 352.00h1.26v1.10h-1.26zM158.78 354.00h1.26v1.10h-1.26zM158.78 356.00h1.26v1.10h-1.26zM158.78 358.00h1.26v1.10h-1.26zM160.04 350.00h1.26v1.10h-1.26zM160.04 352.00h1.26v1.10h-1.26zM160.04 354.00h1.26v1.10h-1.26zM161.30 352.00h1.26v1.10h-1.26zM161.30 354.00h1.26v1.10h-1.26zM162.56 346.00h1.26v1.10h-1.26zM162.56 348.00h1.26v1.10h-1.26zM162.56 350.00h1.26v1.10h-1.26zM163.82 342.00h1.26v1.10h-1.26zM163.82 344.00h1.26v1.10h-1.26zM165.08 336.00h1.26v1.10h-1.26zM165.08 338.00h1.26v1.10h-1.26zM165.08 340.00h1.26v1.10h-1.26zM166.34 336.00h1.26v1.10h-1.26zM166.34 338.00h1.26v1.10h-1.26zM166.34 340.00h1.26v1.10h-1.26zM166.34 342.00h1.26v1.10h-1.26zM166.34 344.00h1.26v1.10h-1.26zM167.60 346.00h1.26v1.10h-1.26zM167.60 348.00h1.26v1.10h-1.26zM167.60 350.00h1.26v1.10h-1.26zM168.86 352.00h1.26v1.10h-1.26zM170.12 354.00h1.26v1.10h-1.26zM170.12 356.00h1.26v1.10h-1.26zM170.12 358.00h1.26v1.10h-1.26zM170.12 360.00h1.26v1.10h-1.26zM171.38 348.00h1.26v1.10h-1.26zM171.38 350.00h1.26v1.10h-1.26zM171.38 352.00h1.26v1.10h-1.26zM171.38 354.00h1.26v1.10h-1.26zM171.38 356.00h1.26v1.10h-1.26zM171.38 358.00h1.26v1.10h-1.26zM171.38 360.00h1.26v1.10h-1.26zM172.64 346.00h1.26v1.10h-1.26zM173.90 346.00h1.26v1.10h-1.26zM175.16 348.00h1.26v1.10h-1.26zM175.16 350.00h1.26v1.10h-1.26zM175.16 352.00h1.26v1.10h-1.26zM176.42 352.00h1.26v1.10h-1.26zM177.68 352.00h1.26v1.10h-1.26zM177.68 354.00h1.26v1.10h-1.26zM177.68 356.00h1.26v1.10h-1.26zM177.68 358.00h1.26v1.10h-1.26zM177.68 360.00h1.26v1.10h-1.26zM177.68 362.00h1.26v1.10h-1.26zM178.94 350.00h1.26v1.10h-1.26zM178.94 352.00h1.26v1.10h-1.26zM178.94 354.00h1.26v1.10h-1.26zM178.94 356.00h1.26v1.10h-1.26zM178.94 358.00h1.26v1.10h-1.26zM178.94 360.00h1.26v1.10h-1.26zM178.94 362.00h1.26v1.10h-1.26zM181.46 350.00h1.26v1.10h-1.26zM181.46 352.00h1.26v1.10h-1.26zM181.46 354.00h1.26v1.10h-1.26zM181.46 356.00h1.26v1.10h-1.26zM182.72 356.00h1.26v1.10h-1.26zM183.98 358.00h1.26v1.10h-1.26zM183.98 360.00h1.26v1.10h-1.26zM183.98 362.00h1.26v1.10h-1.26zM185.24 362.00h1.26v1.10h-1.26zM185.24 364.00h1.26v1.10h-1.26zM185.24 366.00h1.26v1.10h-1.26zM185.24 368.00h1.26v1.10h-1.26zM186.50 368.00h1.26v1.10h-1.26zM186.50 370.00h1.26v1.10h-1.26zM187.76 370.00h1.26v1.10h-1.26zM190.28 370.00h1.26v1.10h-1.26zM190.28 372.00h1.26v1.10h-1.26zM190.28 374.00h1.26v1.10h-1.26zM190.28 376.00h1.26v1.10h-1.26zM190.28 378.00h1.26v1.10h-1.26zM191.54 378.00h1.26v1.10h-1.26zM192.80 378.00h1.26v1.10h-1.26zM192.80 380.00h1.26v1.10h-1.26zM194.06 382.00h1.26v1.10h-1.26zM194.06 384.00h1.26v1.10h-1.26zM194.06 386.00h1.26v1.10h-1.26zM194.06 388.00h1.26v1.10h-1.26zM195.32 384.00h1.26v1.10h-1.26zM195.32 386.00h1.26v1.10h-1.26zM195.32 388.00h1.26v1.10h-1.26zM196.58 384.00h1.26v1.10h-1.26zM196.58 386.00h1.26v1.10h-1.26zM196.58 388.00h1.26v1.10h-1.26zM197.84 390.00h1.26v1.10h-1.26zM201.62 392.00h1.26v1.10h-1.26zM201.62 394.00h1.26v1.10h-1.26zM204.14 396.00h1.26v1.10h-1.26zM206.66 398.00h1.26v1.10h-1.26zM206.66 400.00h1.26v1.10h-1.26zM206.66 402.00h1.26v1.10h-1.26zM206.66 404.00h1.26v1.10h-1.26zM207.92 402.00h1.26v1.10h-1.26zM207.92 404.00h1.26v1.10h-1.26zM209.18 402.00h1.26v1.10h-1.26zM209.18 404.00h1.26v1.10h-1.26zM209.18 406.00h1.26v1.10h-1.26zM210.44 406.00h1.26v1.10h-1.26zM211.70 406.00h1.26v1.10h-1.26zM212.96 406.00h1.26v1.10h-1.26zM212.96 408.00h1.26v1.10h-1.26zM214.22 408.00h1.26v1.10h-1.26zM215.48 408.00h1.26v1.10h-1.26zM216.74 406.00h1.26v1.10h-1.26zM216.74 408.00h1.26v1.10h-1.26zM218.00 406.00h1.26v1.10h-1.26zM218.00 408.00h1.26v1.10h-1.26zM219.26 410.00h1.26v1.10h-1.26zM220.52 410.00h1.26v1.10h-1.26zM221.78 410.00h1.26v1.10h-1.26zM223.04 412.00h1.26v1.10h-1.26zM224.30 412.00h1.26v1.10h-1.26zM225.56 412.00h1.26v1.10h-1.26zM226.82 410.00h1.26v1.10h-1.26zM226.82 412.00h1.26v1.10h-1.26zM228.08 410.00h1.26v1.10h-1.26zM229.34 410.00h1.26v1.10h-1.26zM230.60 410.00h1.26v1.10h-1.26zM230.60 412.00h1.26v1.10h-1.26zM231.86 412.00h1.26v1.10h-1.26zM233.12 412.00h1.26v1.10h-1.26zM234.38 412.00h1.26v1.10h-1.26zM236.90 412.00h1.26v1.10h-1.26zM238.16 412.00h1.26v1.10h-1.26zM240.68 412.00h1.26v1.10h-1.26zM244.46 414.00h1.26v1.10h-1.26zM245.72 414.00h1.26v1.10h-1.26zM246.98 414.00h1.26v1.10h-1.26zM248.24 414.00h1.26v1.10h-1.26zM249.50 414.00h1.26v1.10h-1.26z" fill="#000"/>
<path d="M151.90 415.45H153.16V414.96H154.42V414.94H155.68V413.90H156.94V413.90H158.20V412.87H159.46V413.27H160.72V412.28H161.98V412.22H163.24V410.67H164.50V410.51H165.76V409.48H167.02V408.56H168.28V408.46H169.54V406.46H170.80V404.88H172.06V403.57H173.32V401.03H174.58V399.30H175.84V399.95H177.10V397.16H178.36V395.23H179.62V394.75H180.88V392.74H182.14V391.62H183.40V390.39H184.66V391.33H185.92V385.60H187.18V381.46H188.44V377.41H189.70V370.18H190.96V363.36H192.22V361.03H193.48V364.03H194.74V356.15H196.00V353.20H197.26V353.62H198.52V354.52H199.78V347.13H201.04V342.18H202.30V344.03H203.56V339.04H204.82V337.84H206.08V337.80H207.34V333.47H208.60V329.83H209.86V324.46H211.12V329.55H212.38V335.02H213.64V331.74H214.90V328.77H216.16V335.23H217.42V338.45H218.68V332.76H219.94V333.83H221.20V343.21H222.46V346.09H223.72V349.44H224.98V354.26H226.24V357.65H227.50V362.50H228.76V364.95H230.02V374.83H231.28V377.43H232.54V379.77H233.80V385.78H235.06V387.45H236.32V389.64H237.58V393.33H238.84V396.33H240.10V397.66H241.36V402.01H242.62V405.61H243.88V405.84H245.14V408.32H246.40V410.90H247.66V410.24H248.92V411.46H250.18V412.69H251.44V413.09H252.70V413.43H253.96V412.99H255.22V414.21H256.48V414.05H257.74V414.28H259.00V414.37H260.26V414.03H261.50" fill="none" stroke="#000" stroke-width="1.6"/>
<path d="M167.30 415.56H168.56V415.00H169.82V415.08H171.08V415.23H172.34V415.54H173.60V414.95H174.86V414.06H176.12V414.84H177.38V413.79H178.64V414.80H179.90V413.44H181.16V414.41H182.42V412.69H183.68V411.56H184.94V410.79H186.20V411.44H187.46V411.23H188.72V410.92H189.98V408.65H191.24V405.81H192.50V406.01H193.76V401.32H195.02V402.76H196.28V398.62H197.54V401.06H198.80V397.82H200.06V393.76H201.32V387.34H202.58V387.98H203.84V384.39H205.10V378.98H206.36V376.20H207.62V379.22H208.88V371.72H210.14V371.81H211.40V372.39H212.66V360.46H213.92V368.29H215.18V363.89H216.44V355.58H217.70V351.93H218.96V347.66H220.22V351.41H221.48V339.90H222.74V350.34H224.00V348.45H225.26V346.46H226.52V346.13H227.78V345.56H229.04V347.36H230.30V352.88H231.56V346.87H232.82V352.91H234.08V351.24H235.34V348.16H236.60V355.16H237.86V350.53H239.12V351.09H240.38V351.13H241.64V357.72H242.90V354.16H244.16V355.90H245.42V357.38H246.68V357.45H247.94V355.13H249.20V365.33H250.46V358.42H251.72V358.25H252.98V357.08H254.24V367.49H255.50V377.80H256.76V384.93H258.02V387.94H259.28V391.12H260.54V394.47H261.80V395.85H263.06V402.46H264.32V403.82H265.58V408.76H266.84V408.75H268.10V409.79H269.36V411.21H270.62V413.02H271.88V414.55H273.14V414.67H274.40V414.35H275.66V414.62H276.92V415.18H278.18V415.13H279.44V415.17H280.70V415.16H281.96V415.08H283.22V414.93H284.48V415.15H285.74V415.15H287.00V415.14H288.26V415.14H289.52V415.13H290.78V415.13H292.04V415.13H293.30V415.12H294.56V415.12H295.82V415.11H297.08V415.11H298.34V415.10H299.60V415.10H300.00" fill="none" stroke="#000" stroke-width="2.8"/>
<line x1="150.0" y1="309.8" x2="151.9" y2="332.0" stroke="#000" stroke-width="2"/>
<polygon points="146.2,331.5 158.7,331.5 152.9,342.5" fill="#000"/>
<line x1="228.5" y1="288.6" x2="221.6" y2="316.0" stroke="#000" stroke-width="2"/>
<polygon points="215.9,313.4 226.8,317.3 218.5,326.5" fill="#000"/>
<line x1="291.1" y1="328.2" x2="269.4" y2="347.4" stroke="#000" stroke-width="2"/>
<polygon points="265.1,344.0 274.2,352.2 261.0,356.5" fill="#000"/>
<text class="lbl" x="143.0" y="292.1" font-size="13.2" style="stroke-width:0.3px">a</text>
<text class="lbl" x="229.5" y="278.7" font-size="13.2" style="stroke-width:0.3px">d</text>
<text class="lbl" x="290.3" y="317.7" font-size="13.2" style="stroke-width:0.3px">e</text>
<line x1="110.8" y1="483.0" x2="110.8" y2="654.9" stroke="#3a3a3a" stroke-width="1"/>
<line x1="102.5" y1="654.4" x2="455.5" y2="654.4" stroke="#3a3a3a" stroke-width="1"/>
<line x1="102" y1="654.4" x2="110.8" y2="654.4" stroke="#3a3a3a" stroke-width="1"/>
<text x="94.1" y="659.5" font-size="16.3" text-anchor="end">0</text>
<line x1="102" y1="620.2" x2="110.8" y2="620.2" stroke="#3a3a3a" stroke-width="1"/>
<text x="94.1" y="625.3" font-size="16.3" text-anchor="end">5</text>
<line x1="102" y1="586.0" x2="110.8" y2="586.0" stroke="#3a3a3a" stroke-width="1"/>
<text x="94.1" y="591.1" font-size="16.3" text-anchor="end">10</text>
<line x1="102" y1="551.9" x2="110.8" y2="551.9" stroke="#3a3a3a" stroke-width="1"/>
<text x="94.1" y="557.0" font-size="16.3" text-anchor="end">15</text>
<line x1="102" y1="517.7" x2="110.8" y2="517.7" stroke="#3a3a3a" stroke-width="1"/>
<text x="94.1" y="522.8" font-size="16.3" text-anchor="end">20</text>
<line x1="102" y1="483.5" x2="110.8" y2="483.5" stroke="#3a3a3a" stroke-width="1"/>
<text x="94.1" y="488.6" font-size="16.3" text-anchor="end">25</text>
<text transform="translate(62.6 568.6) rotate(-90)" text-anchor="middle" font-size="16.25">Fluoresence Intensity</text>
<rect x="146.6" y="616.4" width="34.9" height="38.0" fill="#fff" stroke="#3a3a3a" stroke-width="1.05"/>
<line x1="164.1" y1="613.5" x2="164.1" y2="616.4" stroke="#444" stroke-width="1"/>
<line x1="159.8" y1="613.5" x2="168.4" y2="613.5" stroke="#444" stroke-width="1"/>
<rect x="199.8" y="517.5" width="35.0" height="136.9" fill="url(#chk)" stroke="#3a3a3a" stroke-width="1.05"/>
<line x1="217.3" y1="515.0" x2="217.3" y2="517.5" stroke="#444" stroke-width="1"/>
<line x1="213.0" y1="515.0" x2="221.6" y2="515.0" stroke="#444" stroke-width="1"/>
<rect x="252.2" y="578.2" width="34.6" height="76.2" fill="url(#chk)" stroke="#3a3a3a" stroke-width="1.05"/>
<line x1="269.5" y1="572.4" x2="269.5" y2="578.2" stroke="#444" stroke-width="1"/>
<line x1="265.2" y1="572.4" x2="273.8" y2="572.4" stroke="#444" stroke-width="1"/>
<rect x="304.5" y="515.2" width="35.8" height="139.2" fill="url(#chk)" stroke="#3a3a3a" stroke-width="1.05"/>
<line x1="322.4" y1="507.3" x2="322.4" y2="515.2" stroke="#444" stroke-width="1"/>
<line x1="318.1" y1="507.3" x2="326.7" y2="507.3" stroke="#444" stroke-width="1"/>
<rect x="358.0" y="563.8" width="35.5" height="90.6" fill="url(#chk)" stroke="#3a3a3a" stroke-width="1.05"/>
<line x1="375.8" y1="558.1" x2="375.8" y2="563.8" stroke="#444" stroke-width="1"/>
<line x1="371.4" y1="558.1" x2="380.1" y2="558.1" stroke="#444" stroke-width="1"/>
<path d="M268.40 560.00 L268.40 556.10 M268.40 560.00 L272.11 558.79 M268.40 560.00 L270.69 563.16 M268.40 560.00 L266.11 563.16 M268.40 560.00 L264.69 558.79" stroke="#000" stroke-width="2.1" stroke-linecap="round" fill="none"/>
<path d="M376.00 548.10 L376.00 544.20 M376.00 548.10 L379.71 546.89 M376.00 548.10 L378.29 551.26 M376.00 548.10 L373.71 551.26 M376.00 548.10 L372.29 546.89" stroke="#000" stroke-width="2.1" stroke-linecap="round" fill="none"/>
<line x1="113.2" y1="666.3" x2="113.2" y2="839.7" stroke="#3a3a3a" stroke-width="1"/>
<line x1="105" y1="839.2" x2="450.5" y2="839.2" stroke="#3a3a3a" stroke-width="1"/>
<line x1="104.5" y1="839.2" x2="113.2" y2="839.2" stroke="#3a3a3a" stroke-width="1"/>
<text x="96.9" y="844.3" font-size="16.3" text-anchor="end">0</text>
<line x1="104.5" y1="789.8" x2="113.2" y2="789.8" stroke="#3a3a3a" stroke-width="1"/>
<text x="96.9" y="794.9" font-size="16.3" text-anchor="end">20</text>
<line x1="104.5" y1="740.3" x2="113.2" y2="740.3" stroke="#3a3a3a" stroke-width="1"/>
<text x="96.9" y="745.4" font-size="16.3" text-anchor="end">40</text>
<line x1="104.5" y1="690.9" x2="113.2" y2="690.9" stroke="#3a3a3a" stroke-width="1"/>
<text x="96.9" y="696.0" font-size="16.3" text-anchor="end">60</text>
<text transform="translate(70 765) rotate(-90)" text-anchor="middle" font-size="16.25">% of Positive cells</text>
<rect x="148.0" y="833.0" width="34.7" height="6.2" fill="#fff" stroke="#3a3a3a" stroke-width="1.05"/>
<line x1="165.3" y1="832.0" x2="165.3" y2="833.0" stroke="#444" stroke-width="1"/>
<line x1="161.0" y1="832.0" x2="169.7" y2="832.0" stroke="#444" stroke-width="1"/>
<rect x="199.5" y="686.0" width="34.7" height="153.2" fill="url(#chk)" stroke="#3a3a3a" stroke-width="1.05"/>
<line x1="216.8" y1="679.8" x2="216.8" y2="686.0" stroke="#444" stroke-width="1"/>
<line x1="212.5" y1="679.8" x2="221.2" y2="679.8" stroke="#444" stroke-width="1"/>
<rect x="251.3" y="803.7" width="34.1" height="35.5" fill="url(#chk)" stroke="#3a3a3a" stroke-width="1.05"/>
<line x1="268.4" y1="798.4" x2="268.4" y2="803.7" stroke="#444" stroke-width="1"/>
<line x1="264.1" y1="798.4" x2="272.7" y2="798.4" stroke="#444" stroke-width="1"/>
<rect x="302.7" y="687.2" width="34.7" height="152.0" fill="url(#chk)" stroke="#3a3a3a" stroke-width="1.05"/>
<line x1="320.0" y1="680.5" x2="320.0" y2="687.2" stroke="#444" stroke-width="1"/>
<line x1="315.7" y1="680.5" x2="324.3" y2="680.5" stroke="#444" stroke-width="1"/>
<rect x="354.3" y="788.2" width="34.9" height="51.0" fill="url(#chk)" stroke="#3a3a3a" stroke-width="1.05"/>
<line x1="371.8" y1="781.6" x2="371.8" y2="788.2" stroke="#444" stroke-width="1"/>
<line x1="367.4" y1="781.6" x2="376.1" y2="781.6" stroke="#444" stroke-width="1"/>
<path d="M268.00 791.70 L268.00 787.80 M268.00 791.70 L271.71 790.49 M268.00 791.70 L270.29 794.86 M268.00 791.70 L265.71 794.86 M268.00 791.70 L264.29 790.49" stroke="#000" stroke-width="2.1" stroke-linecap="round" fill="none"/>
<path d="M372.60 773.50 L372.60 769.60 M372.60 773.50 L376.31 772.29 M372.60 773.50 L374.89 776.66 M372.60 773.50 L370.31 776.66 M372.60 773.50 L368.89 772.29" stroke="#000" stroke-width="2.1" stroke-linecap="round" fill="none"/>
<rect x="380.3" y="681.8" width="37" height="12" fill="#fff" stroke="#444" stroke-width="1"/>
<rect x="380.3" y="706.8" width="37" height="12.4" fill="url(#chk)" stroke="#444" stroke-width="1"/>
<text x="426.2" y="693.2" font-size="16.2">FITC-BSA</text>
<text x="426.4" y="717.6" font-size="16.3">FITC-accutin</text>
<text x="164.3" y="858.2" font-size="13.7" text-anchor="middle">Control</text>
<text x="216.2" y="858.2" font-size="13.7" text-anchor="middle">Control</text>
<text x="266.2" y="858.2" font-size="13.7" text-anchor="middle">7E3</text>
<text x="318.1" y="858.2" font-size="13.7" text-anchor="middle">GRGES</text>
<text x="375.9" y="858.2" font-size="13.7" text-anchor="middle">GRGDS</text>
</svg></body></html>
